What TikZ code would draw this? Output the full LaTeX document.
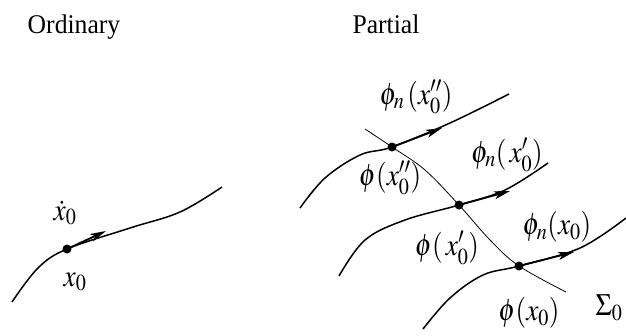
\documentclass[tikz,border=0pt]{standalone}
\usepackage{mathptmx}
\usepackage{graphicx}
\usepackage{fontspec}
\setmainfont{Liberation Serif}
\usetikzlibrary{arrows.meta}
\newcommand{\narrowlab}[1]{\scalebox{.88}[1]{$#1$}}

\begin{document}
\begin{tikzpicture}[
        x=1pt,y=-1pt,
        trajectory/.style={line width=1.5pt},
        sigmaline/.style={line width=.8pt},
        tangent/.style={-{Stealth[length=16pt,width=8pt,inset=4pt]},line width=1.8pt},
        spot/.style={circle,fill,inner sep=0pt,minimum size=9pt},
        lbl/.style={font=\fontsize{31}{34}\selectfont,inner sep=1pt},
        heading/.style={font=\fontsize{27}{30}\selectfont}
      ]
        \useasboundingbox (0,0) rectangle (626,335);

        \node[heading] (ordinary) at (74,27) {\scalebox{.95}[1]{Ordinary}};
        \node[heading] (partial) at (386,24) {\scalebox{.95}[1]{Partial}};

        % ordinary
        \draw[trajectory] plot[smooth,tension=.6] coordinates
          {(12,302) (38,268) (67,249) (130,228) (180,212) (222,187)};
        \node[spot] (xa) at (67,249) {};
        \coordinate (xatip) at (106,231);
        \draw[tangent] (xa.center) -- (xatip);
        \node[lbl] (xdot) at (65,213) {\narrowlab{\dot{x}_0}};
        \node[lbl] (xlab) at (75,282) {\narrowlab{x_0}};

        % partial
        \draw[sigmaline] plot[smooth,tension=.6] coordinates
          {(365,129) (392,147) (425,170) (459,205) (490,240) (519,266) (566,292)};
        \draw[trajectory] plot[smooth,tension=.6] coordinates
          {(300,208) (325,178) (360,155) (392,147) (450,123) (509,94)};
        \draw[trajectory] plot[smooth,tension=.6] coordinates
          {(339,276) (365,240) (405,220) (459,205) (505,190) (548,163)};
        \draw[trajectory] plot[smooth,tension=.6] coordinates
          {(423,329) (450,298) (483,275) (519,266) (580,248) (626,218)};

        \node[spot] (pa) at (392,147) {};
        \node[spot] (pb) at (459,205) {};
        \node[spot] (pc) at (519,266) {};
        \coordinate (patip) at (442,128);
        \coordinate (pbtip) at (510,191);
        \coordinate (pctip) at (574,252);
        \draw[tangent] (pa.center) -- (patip);
        \draw[tangent] (pb.center) -- (pbtip);
        \draw[tangent] (pc.center) -- (pctip);

        \node[lbl] (phina) at (416,97) {\narrowlab{\phi_n\,(x_0'')}};
        \node[lbl] (phia) at (390,178) {\narrowlab{\phi(x_0'')}};
        \node[lbl] (phinb) at (507,155) {\narrowlab{\phi_n(\,x_0')}};
        \node[lbl] (phib) at (447,248) {\narrowlab{\phi(\,x_0')}};
        \node[lbl] (phinc) at (557,227) {\narrowlab{\phi_n(x_0)}};
        \node[lbl] (phic) at (529,313) {\narrowlab{\phi(x_0)}};
        \node[lbl] (sigma) at (609,308) {\narrowlab{\Sigma_0}};
      \end{tikzpicture}
\end{document}
